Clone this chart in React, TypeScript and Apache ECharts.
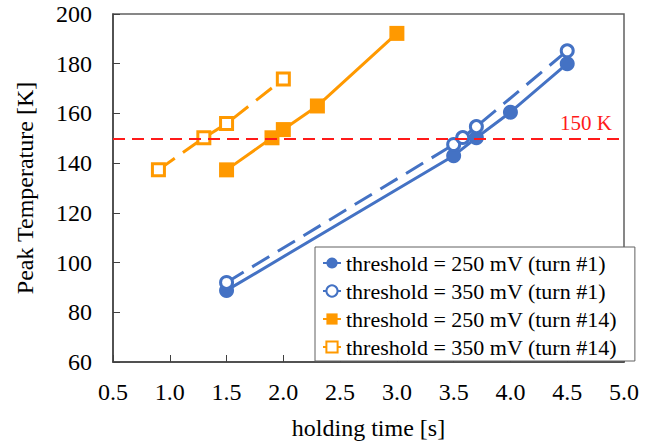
import React, { useEffect, useRef } from "react";
import * as echarts from "echarts";

const seriesNames = [
  "threshold = 250 mV (turn #1)",
  "threshold = 350 mV (turn #1)",
  "threshold = 250 mV (turn #14)",
  "threshold = 350 mV (turn #14)",
];

const t250turn1: [number, number][] = [
  [1.5, 88.8],
  [3.5, 143],
  [3.7, 150.2],
  [4.0, 160.5],
  [4.5, 180],
];
const t350turn1: [number, number][] = [
  [1.5, 92],
  [3.5, 147.5],
  [3.58, 150.3],
  [3.7, 154.7],
  [4.5, 185.2],
];
const t250turn14: [number, number][] = [
  [1.5, 137.3],
  [1.9, 150.2],
  [2.0, 153.5],
  [2.3, 163],
  [3.0, 192.2],
];
const t350turn14: [number, number][] = [
  [0.9, 137.3],
  [1.3, 150.2],
  [1.5, 155.9],
  [2.0, 173.9],
];

const thresholdLine = 150;
const thresholdLabel = "150 K";

const BLUE = "#4472C4";
const ORANGE = "#FF9900";
const RED = "#FF1A1A";
const FONT = "'Liberation Serif', 'Times New Roman', serif";

export default function App() {
  const ref = useRef<HTMLDivElement>(null);
  useEffect(() => {
    if (!ref.current) return;
    const chart = echarts.init(ref.current, undefined, { renderer: "svg" });
    const dash = [20, 10];
    chart.setOption({
      animation: false,
      backgroundColor: "#ffffff",
      textStyle: { fontFamily: FONT },
      grid: {
        left: 113,
        right: 40,
        top: 14,
        bottom: 81,
        show: true,
        borderColor: "#606060",
        borderWidth: 1.5,
        backgroundColor: "transparent",
      },
      legend: {
        orient: "vertical",
        left: 315,
        top: 247,
        padding: [5, 18, 3, 7],
        backgroundColor: "#ffffff",
        borderColor: "#606060",
        borderWidth: 1,
        itemWidth: 18,
        itemHeight: 14,
        itemGap: 6,
        textStyle: { fontFamily: FONT, fontSize: 22, color: "#000" },
        lineStyle: { type: "solid" },
        data: seriesNames,
      },
      xAxis: {
        type: "value",
        min: 0.5,
        max: 5.0,
        interval: 0.5,
        name: "holding time [s]",
        nameLocation: "middle",
        nameGap: 54,
        nameTextStyle: { fontFamily: FONT, fontSize: 24, color: "#000" },
        axisLine: { show: true, lineStyle: { color: "#404040", width: 1.5 } },
        axisTick: { show: true, inside: true, length: 7, lineStyle: { color: "#404040" } },
        axisLabel: {
          margin: 18,
          fontFamily: FONT,
          fontSize: 24,
          color: "#000",
          formatter: (v: number) => v.toFixed(1),
        },
        splitLine: { show: false },
      },
      yAxis: {
        type: "value",
        min: 60,
        max: 200,
        interval: 20,
        name: "Peak Temperature [K]",
        nameLocation: "middle",
        nameGap: 76,
        nameTextStyle: { fontFamily: FONT, fontSize: 24, color: "#000" },
        axisLine: { show: true, lineStyle: { color: "#404040", width: 1.5 } },
        axisTick: { show: true, inside: true, length: 7, lineStyle: { color: "#404040" } },
        axisLabel: { margin: 21, fontFamily: FONT, fontSize: 24, color: "#000" },
        splitLine: { show: false },
      },
      series: [
        {
          name: seriesNames[0],
          type: "line",
          data: t250turn1,
          symbol: "circle",
          symbolSize: 15,
          itemStyle: { color: BLUE },
          lineStyle: { color: BLUE, width: 3 },
          z: 3,
          markLine: {
            silent: true,
            symbol: "none",
            lineStyle: { color: RED, width: 2, type: [12, 7] },
            label: {
              show: true,
              position: "insideEndTop",
              formatter: thresholdLabel,
              color: RED,
              fontFamily: FONT,
              fontSize: 21,
              distance: [12, 5],
            },
            data: [{ yAxis: thresholdLine }],
          },
        },
        {
          name: seriesNames[1],
          type: "line",
          data: t350turn1,
          symbol: "circle",
          symbolSize: 12,
          itemStyle: { color: "#ffffff", borderColor: BLUE, borderWidth: 3 },
          lineStyle: { color: BLUE, width: 3, type: dash },
          z: 4,
        },
        {
          name: seriesNames[2],
          type: "line",
          data: t250turn14,
          symbol: "rect",
          symbolSize: 15,
          itemStyle: { color: ORANGE },
          lineStyle: { color: ORANGE, width: 3 },
          z: 3,
        },
        {
          name: seriesNames[3],
          type: "line",
          data: t350turn14,
          symbol: "rect",
          symbolSize: 12,
          itemStyle: { color: "#ffffff", borderColor: ORANGE, borderWidth: 3 },
          lineStyle: { color: ORANGE, width: 3, type: dash },
          z: 4,
        },
      ],
    });
    return () => chart.dispose();
  }, []);
  return (
    <div
      ref={ref}
      style={{ position: "absolute", left: 0, top: 0, width: 664, height: 445 }}
    />
  );
}
